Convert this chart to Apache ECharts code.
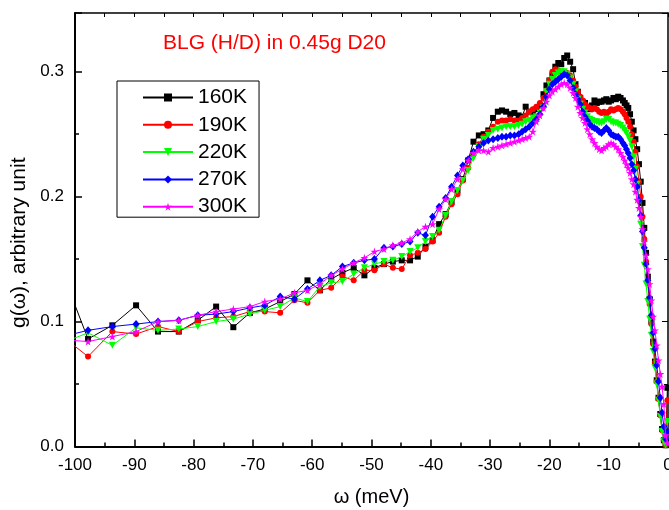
<!DOCTYPE html>
<html>
<head>
<meta charset="utf-8">
<script src="https://cdn.jsdelivr.net/npm/echarts@6/dist/echarts.min.js"></script>
<style>html,body{margin:0;padding:0;background:#fff}#c{width:669px;height:510px}</style>
</head>
<body>
<div id="c"></div>
<script>
// energy transfer grid (meV)
var energy = [-102.1,-97.8,-93.7,-89.7,-86.0,-82.5,-79.3,-76.2,-73.3,-70.5,
-68.0,-65.4,-63.0,-60.8,-58.7,-56.8,-54.9,-53.0,-51.2,-49.5,
-47.9,-46.4,-44.9,-43.5,-42.2,-40.9,-39.7,-38.6,-37.5,-36.5,
-35.5,-34.6,-33.7,-32.8,-31.9,-31.1,-30.3,-29.5,-28.7,-28.0,
-27.3,-26.6,-25.9,-25.2,-24.6,-24.0,-23.4,-22.8,-22.2,-21.6,
-21.0,-20.5,-20.0,-19.5,-19.0,-18.5,-18.0,-17.5,-17.0,-16.5,
-16.0,-15.6,-15.2,-14.8,-14.4,-14.0,-13.6,-13.2,-12.8,-12.4,
-12.0,-11.6,-11.2,-10.8,-10.4,-10.0,-9.6,-9.2,-8.8,-8.4,
-8.0,-7.6,-7.3,-7.0,-6.7,-6.4,-6.1,-5.8,-5.5,-5.2,
-4.9,-4.6,-4.3,-4.0,-3.7,-3.4,-3.1,-2.8,-2.5,-2.2,
-1.9,-1.6,-1.3,-1.0,-0.7,-0.4,-0.1];

var g160 = [0.139,0.086,0.097,0.113,0.092,0.092,0.101,0.112,0.0955,0.107,
0.110,0.116,0.122,0.133,0.125,0.134,0.139,0.143,0.137,0.143,
0.146,0.148,0.149,0.149,0.152,0.160,0.165,0.178,0.186,0.196,
0.205,0.214,0.229,0.244,0.249,0.250,0.253,0.263,0.268,0.269,
0.268,0.266,0.267,0.265,0.264,0.272,0.268,0.267,0.270,0.273,
0.282,0.289,0.293,0.297,0.304,0.307,0.306,0.311,0.313,0.308,
0.302,0.290,0.284,0.279,0.276,0.275,0.272,0.270,0.273,0.277,
0.275,0.276,0.276,0.277,0.278,0.276,0.277,0.279,0.278,0.280,
0.279,0.277,0.275,0.273,0.271,0.266,0.260,0.253,0.246,0.238,
0.226,0.212,0.195,0.175,0.155,0.136,0.118,0.100,0.084,0.068,
0.053,0.039,0.026,0.014,0.005,0.001,0.047];

var g190 = [0.088,0.072,0.092,0.090,0.096,0.092,0.100,0.103,0.104,0.108,
0.108,0.107,0.117,0.115,0.125,0.127,0.136,0.133,0.141,0.141,
0.146,0.143,0.142,0.153,0.155,0.158,0.164,0.171,0.184,0.194,
0.202,0.213,0.223,0.234,0.242,0.248,0.252,0.256,0.260,0.261,
0.261,0.262,0.261,0.261,0.263,0.265,0.268,0.270,0.272,0.275,
0.279,0.285,0.293,0.300,0.302,0.301,0.300,0.300,0.299,0.297,
0.293,0.288,0.284,0.280,0.277,0.274,0.272,0.271,0.270,0.271,
0.270,0.268,0.267,0.268,0.266,0.268,0.270,0.269,0.270,0.271,
0.270,0.268,0.266,0.263,0.260,0.256,0.250,0.244,0.236,0.224,
0.212,0.200,0.184,0.166,0.148,0.131,0.114,0.098,0.082,0.067,
0.052,0.038,0.025,0.013,0.005,0.001,0.037];

var g220 = [0.083,0.091,0.081,0.095,0.093,0.094,0.096,0.100,0.102,0.106,
0.109,0.112,0.119,0.116,0.128,0.131,0.132,0.138,0.143,0.146,
0.148,0.149,0.152,0.156,0.159,0.164,0.168,0.173,0.185,0.196,
0.205,0.213,0.221,0.231,0.240,0.246,0.249,0.253,0.254,0.255,
0.256,0.256,0.256,0.257,0.258,0.260,0.261,0.263,0.264,0.267,
0.271,0.284,0.290,0.294,0.297,0.299,0.300,0.300,0.298,0.295,
0.290,0.284,0.278,0.274,0.270,0.267,0.264,0.262,0.261,0.260,
0.260,0.259,0.259,0.260,0.262,0.262,0.260,0.259,0.259,0.258,
0.257,0.255,0.253,0.251,0.248,0.245,0.240,0.232,0.222,0.210,
0.195,0.178,0.160,0.145,0.130,0.116,0.102,0.089,0.076,0.063,
0.050,0.037,0.024,0.012,0.004,0.001,0.020];

var g270 = [0.088,0.093,0.096,0.098,0.100,0.101,0.105,0.106,0.108,0.111,
0.113,0.120,0.118,0.126,0.133,0.137,0.144,0.147,0.149,0.150,
0.159,0.160,0.162,0.164,0.171,0.169,0.184,0.192,0.199,0.208,
0.217,0.225,0.230,0.236,0.240,0.243,0.245,0.246,0.247,0.248,
0.248,0.249,0.249,0.250,0.252,0.254,0.256,0.259,0.262,0.266,
0.272,0.280,0.286,0.290,0.292,0.294,0.296,0.298,0.297,0.293,
0.287,0.282,0.278,0.274,0.268,0.264,0.261,0.258,0.256,0.255,
0.254,0.252,0.251,0.253,0.255,0.253,0.250,0.249,0.248,0.248,
0.246,0.243,0.241,0.238,0.235,0.231,0.226,0.221,0.214,0.208,
0.197,0.185,0.172,0.159,0.146,0.133,0.119,0.105,0.091,0.078,
0.065,0.052,0.039,0.027,0.016,0.006,0.012];

var g300 = [0.0855,0.084,0.088,0.092,0.100,0.101,0.105,0.108,0.110,0.112,
0.116,0.118,0.123,0.125,0.130,0.137,0.142,0.147,0.151,0.156,
0.158,0.161,0.163,0.166,0.172,0.176,0.178,0.190,0.198,0.206,
0.214,0.222,0.229,0.235,0.237,0.237,0.236,0.239,0.240,0.241,
0.242,0.243,0.244,0.245,0.246,0.247,0.248,0.252,0.260,0.265,
0.271,0.276,0.281,0.284,0.286,0.288,0.290,0.291,0.290,0.287,
0.283,0.279,0.272,0.267,0.263,0.259,0.254,0.250,0.246,0.243,
0.240,0.238,0.237,0.239,0.240,0.242,0.243,0.242,0.240,0.238,
0.235,0.232,0.229,0.226,0.223,0.219,0.214,0.210,0.204,0.1975,
0.191,0.184,0.174,0.164,0.153,0.142,0.130,0.117,0.104,0.093,
0.081,0.069,0.058,0.048,0.034,0.009,0.003];

var seriesNames = ['160K','190K','220K','270K','300K'];
var seriesColors = ['#000000','#ff0000','#00ff00','#0000ff','#ff00ff'];
var xTicks = [-100,-90,-80,-70,-60,-50,-40,-30,-20,-10,0];
var yTicks = [0.0,0.1,0.2,0.3];

var starPath = 'path://M50,0 L61,35 L98,35 L68,57 L79,91 L50,70 L21,91 L32,57 L2,35 L39,35 Z';
var symbols = ['rect','circle','triangle','diamond',starPath];
var symSizes = [6,6,7,[7,8],8];
var symRot = [0,0,180,0,0];
var allData = [g160,g190,g220,g270,g300];

function pairs(arr){ return energy.map(function(x,i){ return [x, arr[i]]; }); }

var FONT = 'Liberation Sans, Arial, sans-serif';
var series = allData.map(function(arr, k){
  return {
    name: seriesNames[k], type: 'line', data: pairs(arr),
    symbol: symbols[k], symbolSize: symSizes[k], symbolRotate: symRot[k],
    lineStyle: {color: seriesColors[k], width: 1},
    itemStyle: {color: seriesColors[k]},
    clip: true, z: 2 + k
  };
});

var chart = echarts.init(document.getElementById('c'), null, {renderer: 'canvas'});
chart.setOption({
  animation: false,
  backgroundColor: '#ffffff',
  title: {text: 'BLG (H/D) in 0.45g D20', left: 163, top: 33, padding: 0,
    textStyle: {color: '#ff0000', fontSize: 21, fontWeight: 'normal', fontFamily: FONT}},
  grid: {left: 75, right: 1, top: 13, bottom: 63.5, outerBoundsMode: 'none', containLabel: false},
  legend: {
    orient: 'vertical', left: 117, top: 81, padding: [6, 12, 0, 25], itemGap: 6.3,
    itemWidth: 50, itemHeight: 10,
    borderColor: '#000', borderWidth: 1, backgroundColor: '#fff',
    textStyle: {fontSize: 21, color: '#000', fontFamily: FONT},
    data: seriesNames
  },
  xAxis: [{
    type: 'value', min: -100, max: 0, interval: 10,
    name: 'ω (meV)', nameLocation: 'middle', nameGap: 41,
    nameTextStyle: {fontSize: 20, color: '#000', fontFamily: FONT},
    axisLine: {show: true, onZero: false, lineStyle: {color: '#000', width: 2}},
    axisTick: {show: true, inside: true, length: 7, lineStyle: {color: '#000', width: 1.5}},
    minorTick: {show: true, splitNumber: 2, length: 4, lineStyle: {color: '#000', width: 1.5}},
    axisLabel: {fontSize: 17, color: '#000', margin: 10, fontFamily: FONT,
      formatter: function(v){ return xTicks.indexOf(v) >= 0 ? String(v) : ''; }},
    splitLine: {show: false}
  }, {
    type: 'value', min: -100, max: 0, interval: 10, position: 'top',
    axisLine: {show: true, onZero: false, lineStyle: {color: '#000', width: 1.5}},
    axisTick: {show: true, inside: true, length: 4, lineStyle: {color: '#000', width: 1}},
    minorTick: {show: true, splitNumber: 2, length: 4, lineStyle: {color: '#000', width: 1}},
    axisLabel: {show: false}, splitLine: {show: false}
  }],
  yAxis: [{
    type: 'value', min: 0, max: 0.347, interval: 0.1,
    name: 'g(ω), arbitrary unit', nameLocation: 'middle', nameGap: 44, nameRotate: 90,
    nameTextStyle: {fontSize: 21, color: '#000', fontFamily: FONT, padding: [0, 26, 0, 0]},
    axisLine: {show: true, onZero: false, lineStyle: {color: '#000', width: 2}},
    axisTick: {show: true, inside: true, length: 7, lineStyle: {color: '#000', width: 1.5}},
    minorTick: {show: true, splitNumber: 2, length: 4, lineStyle: {color: '#000', width: 1.5}},
    axisLabel: {fontSize: 17, color: '#000', margin: 11, fontFamily: FONT, showMaxLabel: false,
      formatter: function(v){
        for (var i = 0; i < yTicks.length; i++) { if (Math.abs(v - yTicks[i]) < 1e-6) return yTicks[i].toFixed(1); }
        return '';
      }},
    splitLine: {show: false}
  }, {
    type: 'value', min: 0, max: 0.347, interval: 0.1, position: 'right',
    axisLine: {show: true, onZero: false, lineStyle: {color: '#000', width: 1.5}},
    axisTick: {show: true, inside: true, length: 6, lineStyle: {color: '#000', width: 1}},
    minorTick: {show: true, splitNumber: 2, length: 4, lineStyle: {color: '#000', width: 1}},
    axisLabel: {show: false}, splitLine: {show: false}
  }],
  series: series
});
</script>
</body>
</html>
